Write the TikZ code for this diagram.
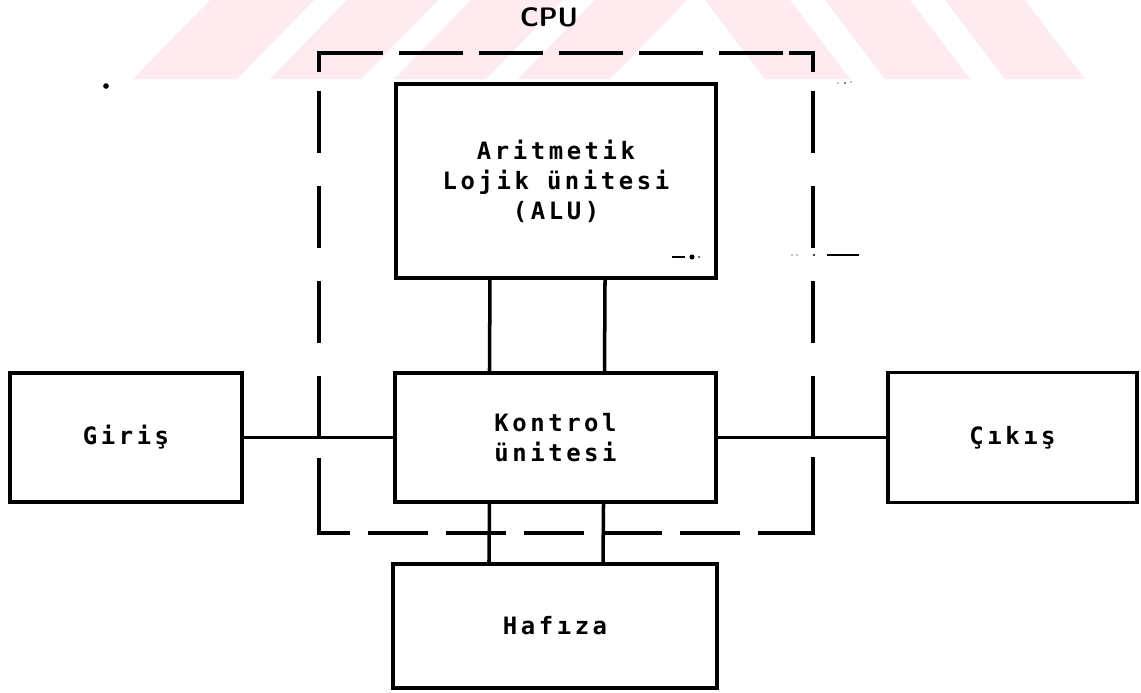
\documentclass[tikz,border=0pt]{standalone}
\usepackage{fontspec}
\newfontfamily\dotfont[LetterSpace=15]{DejaVu Sans Mono}
\definecolor{wmpink}{RGB}{253,235,239}
\tikzset{
  unit/.style={draw,line width=2.5pt,inner sep=0pt,align=center,
    font=\dotfont\bfseries\fontsize{17}{21.3}\selectfont},
  bus/.style={line width=2.5pt},
  cpuedge/.style={line width=2.6pt}
}

\begin{document}
\begin{tikzpicture}[x=0.025cm,y=-0.025cm]
  \useasboundingbox (0,0) rectangle (1141,692);
  % faint stripes at the top
  \foreach \a/\b in {133/237,270/361,394/486,518/610}
    \fill[wmpink] (\a,79) -- (\b,79) -- (\b+77,0) -- (\a+77,0) -- cycle;
  \foreach \a/\b in {705/790,825/910,945/1025}
    \fill[wmpink] (\a,0) -- (\b,0) -- (\b+60,79) -- (\a+60,79) -- cycle;

  \node[font=\sffamily\bfseries\fontsize{19}{20}\selectfont] (cpulbl) at (549,17) {CPU};
  \coordinate (fnw) at (319,53);
  \coordinate (fne) at (813,53);
  \coordinate (fse) at (813,533);
  \coordinate (fsw) at (319,533);
  \draw[cpuedge,dash pattern=on 1.6cm off 0.4cm] (fnw) -- (fne);    % top
  \draw[cpuedge,dash pattern=on 1.55cm off 0.825cm] (fse) -- (fne); % right
  \draw[cpuedge,dash pattern=on 1.5cm off 0.45cm,dash phase=0.725cm] (fsw) -- (fse); % bottom
  \draw[cpuedge,dash pattern=on 1.55cm off 0.825cm] (fsw) -- (fnw); % left
  % solid corners
  \draw[cpuedge] (fnw) ++(0,19) -- (fnw) -- ++(34,0);
  \draw[cpuedge] (fne) ++(-24,0) -- (fne) -- ++(0,19);
  \draw[cpuedge] (fse) ++(0,-76) -- (fse) -- ++(-30,0);
  \draw[cpuedge] (fsw) ++(0,-75) -- (fsw) -- ++(31,0);

  \node[unit,minimum width=8cm,minimum height=4.85cm] (alu) at (556,181)
    {Aritmetik\\Lojik ünitesi\\(ALU)};
  \node[unit,minimum width=8.025cm,minimum height=3.225cm] (ctl) at (555.5,437.5)
    {Kontrol\\ünitesi};
  \node[unit,minimum width=8.1cm,minimum height=3.1cm] (mem) at (555,626) {Hafıza};
  \node[unit,minimum width=5.8cm,minimum height=3.225cm] (inp) at (126,437.5) {Giriş};
  \node[unit,minimum width=6.225cm,minimum height=3.25cm] (out) at (1012.5,437.5) {Çıkış};

  \draw[bus] ([xshift=-1.65cm]alu.south) -- ([xshift=-1.65cm]ctl.north);
  \draw[bus] ([xshift=1.225cm]alu.south) -- ([xshift=1.225cm]ctl.north);
  \draw[bus] ([xshift=-1.65cm]ctl.south) -- ([xshift=-1.65cm]mem.north);
  \draw[bus] ([xshift=1.2cm]ctl.south) -- ([xshift=1.2cm]mem.north);
  \draw[bus] (inp) -- (ctl);
  \draw[bus] (ctl) -- (out);

  % specks of the scan
  \fill (106,86) circle (2pt);
  \draw[line width=2pt] (672,257) -- (685,257);
  \fill (692,257) circle (1.8pt);
  \fill (699,257) circle (0.7pt);
  \fill (792,255) circle (0.5pt) (797,255) circle (0.5pt) (814,255) circle (0.8pt);
  \draw[line width=2pt] (827,255) -- (859,255);
  \fill (838,83) circle (0.5pt) (845,83) circle (0.6pt) (851,82) circle (0.5pt);
\end{tikzpicture}
\end{document}
